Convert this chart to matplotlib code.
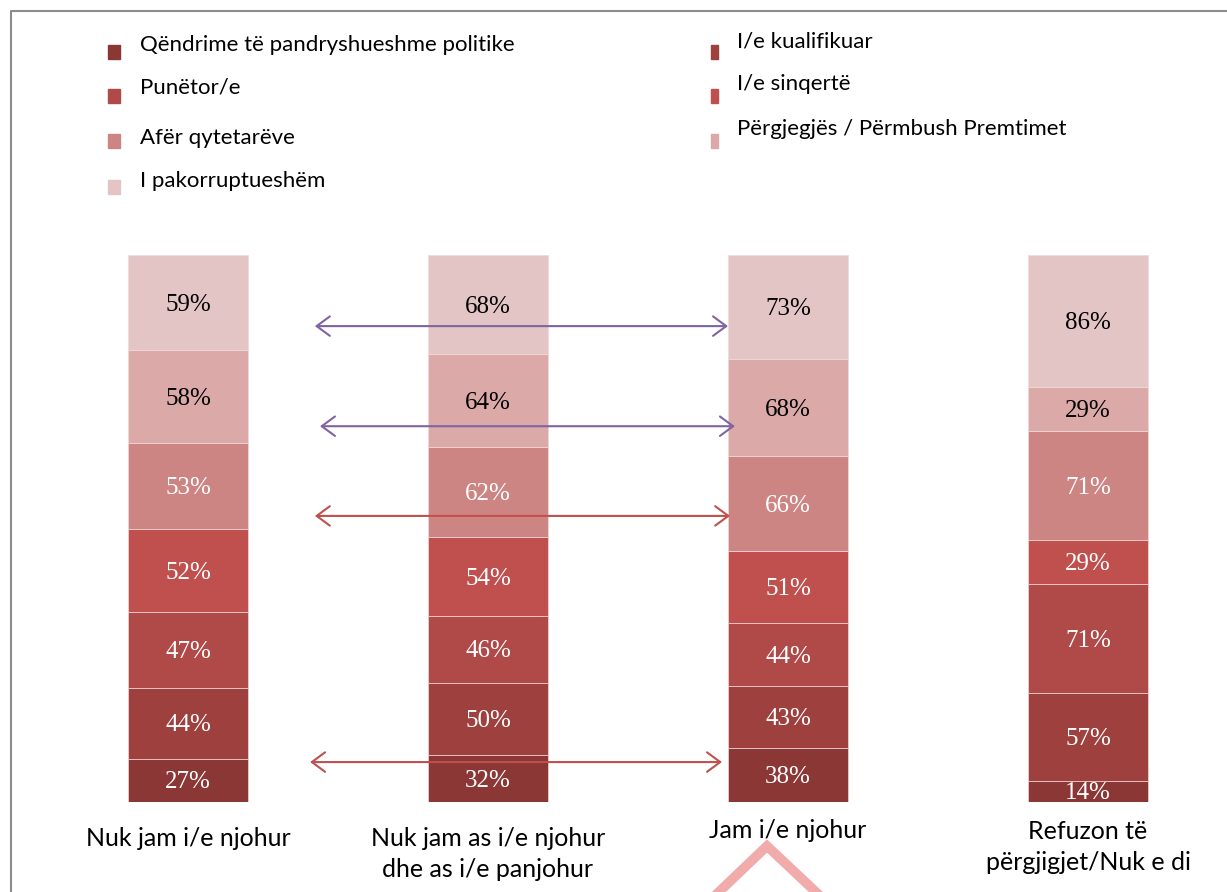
import numpy as np
import matplotlib.pyplot as plt
from matplotlib.lines import Line2D
from matplotlib.patches import Rectangle
import matplotlib.transforms as mtransforms

# categories along the x axis
categories = ["Nuk jam i/e njohur",
              "Nuk jam as i/e njohur\ndhe as i/e panjohur",
              "Jam i/e njohur",
              "Refuzon të\npërgjigjet/Nuk e di"]

# series, bottom to top of each stack
series = ["Qëndrime të pandryshueshme politike", "I/e kualifikuar",
          "Punëtor/e", "I/e sinqertë", "Afër qytetarëve",
          "Përgjegjës / Përmbush Premtimet", "I pakorruptueshëm"]
colors = ["#8B3735", "#9D403E", "#AF4A48", "#C0504D", "#CD8583",
          "#DAA9A8", "#E3C5C6"]
label_colors = ["white"] * 5 + ["black"] * 2

qendrime = [27, 32, 38, 14]
kualifikuar = [44, 50, 43, 57]
punetor = [47, 46, 44, 71]
sinqerte = [52, 54, 51, 29]
afer = [53, 62, 66, 71]
pergjegjes = [58, 64, 68, 29]
pakorruptueshem = [59, 68, 73, 86]

values = np.array([qendrime, kualifikuar, punetor, sinqerte, afer,
                   pergjegjes, pakorruptueshem], dtype=float)
shares = values / values.sum(axis=0) * 100

W, H = 1227, 892
fig = plt.figure(figsize=(W / 100, H / 100), dpi=100)
ax = fig.add_axes([38 / W, 90 / H, 1140 / W, 547 / H])
ax.set_xlim(-0.5, 3.3)
ax.set_ylim(0, 100)
ax.axis("off")

x = np.arange(len(categories))
bottom = np.zeros(len(categories))
for i in range(len(series)):
    ax.bar(x, shares[i], 0.4, bottom=bottom, color=colors[i],
           edgecolor="#EFD9D8", linewidth=0.5)
    for j in range(len(categories)):
        ax.text(x[j], bottom[j] + shares[i][j] / 2 - 0.4, f"{int(values[i][j])}%",
                ha="center", va="center", color=label_colors[i],
                fontsize=18, family="Liberation Serif")
    bottom += shares[i]

# comparison arrows between first and third bar
arrows = [(0.423, 1.80, 87.0, "#8064A2"), (0.44, 1.823, 68.7, "#8064A2"),
          (0.423, 1.807, 52.3, "#C0504D"), (0.407, 1.78, 7.3, "#C0504D")]
for x0, x1, yy, c in arrows:
    ax.annotate("", xy=(x1, yy), xytext=(x0, yy),
                arrowprops=dict(arrowstyle="<->,head_length=0.95,head_width=0.7",
                                color=c, lw=1.5, shrinkA=0, shrinkB=0))

# category labels
trans = mtransforms.blended_transform_factory(ax.transData, fig.transFigure)
label_y = [838, 854, 830, 847]
for j, lab in enumerate(categories):
    ax.text(x[j], 1 - label_y[j] / H, lab, transform=trans, ha="center",
            va="center", fontsize=18, family="Lato", linespacing=1.42,
            clip_on=False)

# legend drawn by hand, two columns
leg_pos = [(108, 52, 140, 45, 12), (711, 52, 737, 41, 7),
           (108, 96, 140, 88, 12), (711, 96, 737, 84, 7),
           (108, 141, 140, 138, 12), (711, 141, 737, 129, 7),
           (108, 187, 140, 181, 12)]
for (mx, my, tx, ty, mw), name, c in zip(leg_pos, series, colors):
    fig.add_artist(Rectangle((mx / W, 1 - (my + 7) / H), mw / W, 14 / H,
                             transform=fig.transFigure, color=c))
    fig.text(tx / W, 1 - ty / H, name, ha="left", va="center",
             fontsize=16, family="Lato")

# frame lines (top and left)
fig.add_artist(Line2D([11 / W, 11 / W, 1], [0, 1 - 11 / H, 1 - 11 / H],
                      transform=fig.transFigure, color="#8C8C8C", lw=1.5))

# faint watermark triangle at the bottom
fig.add_artist(Line2D([700 / W, 767 / W, 835 / W],
                      [1 - 910 / H, 1 - 846 / H, 1 - 910 / H],
                      transform=fig.transFigure, color="#F2ABAB", lw=7,
                      solid_joinstyle="miter", zorder=0))

fig.savefig("out.png", dpi=100)
